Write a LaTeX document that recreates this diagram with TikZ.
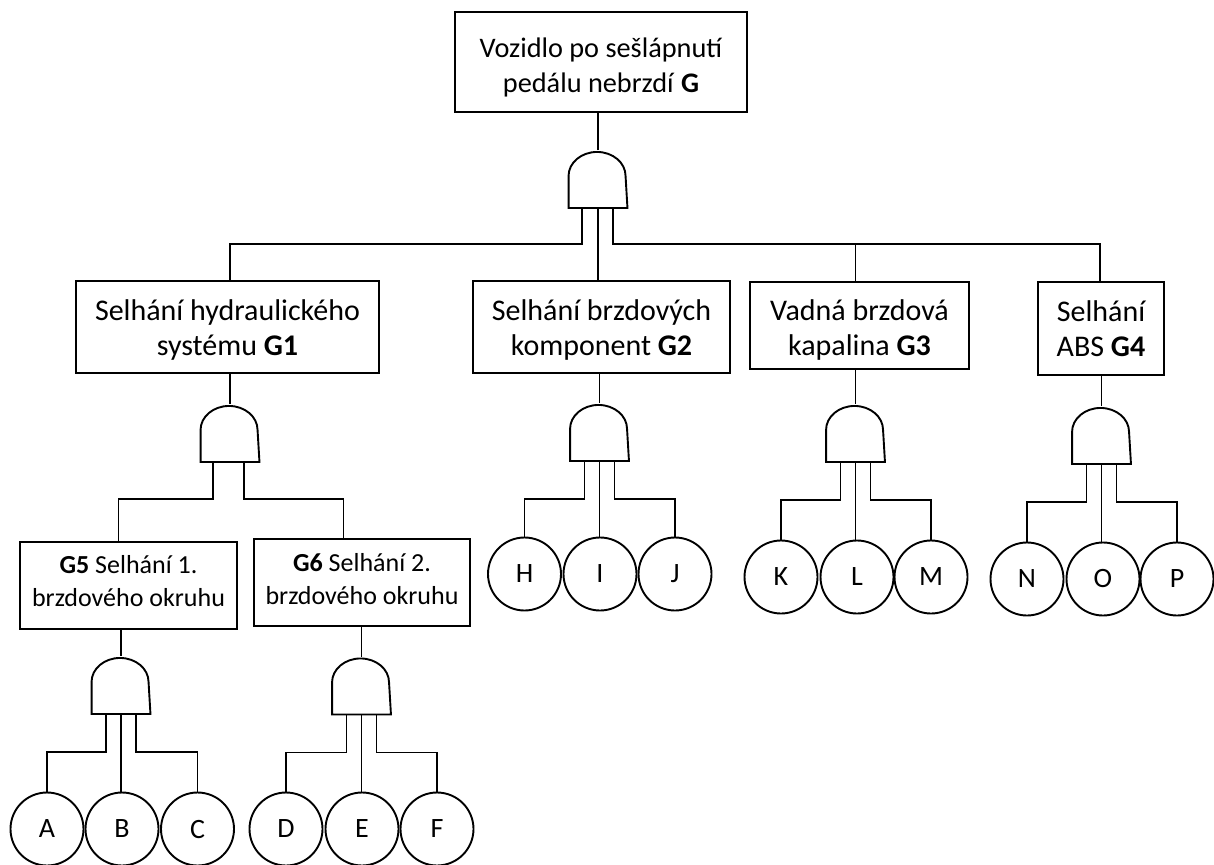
\documentclass[tikz,border=0pt]{standalone}
\usepackage{fontspec}
\setmainfont{Carlito}
\newcommand{\andg}[3]{%
  \node[gatebox] (#1) at (#2,#3) {};
  \draw (#1.south west) -- ++(0pt,32pt) arc[start angle=180,end angle=0,x radius=28.5pt,y radius=24pt] -- (#1.south east) -- cycle;}
\begin{document}
\begin{tikzpicture}[x=1pt,y=-1pt, line width=1.9pt,
  box/.style={draw, rectangle, inner sep=0pt},
  txt/.style={inner sep=0pt, align=center, font=\fontsize{30}{35}\selectfont},
  smalltxt/.style={inner sep=0pt, align=center, font=\fontsize{26}{32.4}\selectfont},
  ev/.style={draw, circle, minimum size=73pt, inner sep=0pt, font=\fontsize{28}{30}\selectfont},
  gatebox/.style={rectangle, minimum width=57pt, minimum height=56pt, inner sep=0pt}]
\useasboundingbox (0,0) rectangle (1214,864);

% boxes
\node[box, minimum width=292pt, minimum height=100pt] (G) at (601,62) {};
\node[txt, font=\fontsize{28.3}{35}\selectfont] (Gt) at (601,67.5) {Vozidlo po sešlápnutí\\pedálu nebrzdí \textbf{G}};
\node[box, minimum width=303pt, minimum height=92pt] (G1) at (227.5,327) {};
\node[txt] (G1t) at (227.5,330) {Selhání hydraulického\\systému \textbf{G1}};
\node[box, minimum width=257pt, minimum height=92pt] (G2) at (601.5,327) {};
\node[txt] (G2t) at (601.5,330) {Selhání brzdových\\komponent \textbf{G2}};
\node[box, minimum width=219pt, minimum height=87pt] (G3) at (859.5,325.5) {};
\node[txt] (G3t) at (859.5,330) {Vadná brzdová\\kapalina \textbf{G3}};
\node[box, minimum width=126pt, minimum height=93pt] (G4) at (1101,328.5) {};
\node[txt] (G4t) at (1101,328.5) {Selhání\\ABS \textbf{G4}};
\node[box, minimum width=217pt, minimum height=87pt] (G5) at (128.5,585.5) {};
\node[smalltxt] (G5t) at (128.5,581) {\textbf{G5} Selhání 1.\\brzdového okruhu};
\node[box, minimum width=216pt, minimum height=87pt] (G6) at (362,582.5) {};
\node[smalltxt] (G6t) at (362,579) {\textbf{G6} Selhání 2.\\brzdového okruhu};

% gates
\andg{tg}{598}{179}
\andg{g1}{230}{433}
\andg{g2}{599.5}{432}
\andg{g3}{855.5}{433}
\andg{g4}{1101.5}{435}
\andg{g5}{121}{685}
\andg{g6}{361.5}{685.5}

% basic events
\node[ev] (A) at (47,829) {A};
\node[ev] (B) at (122,829) {B};
\node[ev] (C) at (197.5,829) {C};
\node[ev] (D) at (286,829) {D};
\node[ev] (E) at (362,829) {E};
\node[ev] (F) at (437,829) {F};
\node[ev] (H) at (524.5,574) {H};
\node[ev] (I) at (600,574) {I};
\node[ev] (J) at (675,574) {J};
\node[ev] (K) at (781,577) {K};
\node[ev] (L) at (857,577) {L};
\node[ev] (M) at (931,577) {M};
\node[ev] (N) at (1027,579) {N};
\node[ev] (O) at (1103,579) {O};
\node[ev] (P) at (1177,579) {P};

% stems box -> gate
\draw (tg.north) -- (tg.north |- G.south);
\foreach \g/\b in {g1/G1,g2/G2,g3/G3,g4/G4,g5/G5,g6/G6}
  \draw (\g.north) -- (\g.north |- \b.south);

% top gate outputs
\coordinate (tl) at (230,244);
\coordinate (tr) at (1100,244);
\draw ([xshift=-16pt]tg.south) |- (tl) -- (tl |- G1.north);
\draw (tg.south) -- (tg.south |- G2.north);
\draw ([xshift=15pt]tg.south) |- (tr) -- (tr |- G4.north);
\draw (tr -| g3.north) -- (g3.north |- G3.north);

% G1 gate outputs
\draw ([xshift=-17pt]g1.south) -- ++(0,37) -| ([xshift=-10pt]G5.north);
\draw ([xshift=14pt]g1.south) -- ++(0,37) -| ([xshift=-18.5pt]G6.north);

% gates -> basic events
\foreach \g/\l/\m/\r in {g2/H/I/J, g3/K/L/M, g4/N/O/P, g5/A/B/C, g6/D/E/F} {
  \draw ([xshift=-15pt]\g.south) -- ++(0,38) -| (\l.north);
  \draw (\g.south) -- (\g.south |- \m.north);
  \draw ([xshift=15pt]\g.south) -- ++(0,38) -| (\r.north);
}
\end{tikzpicture}
\end{document}
